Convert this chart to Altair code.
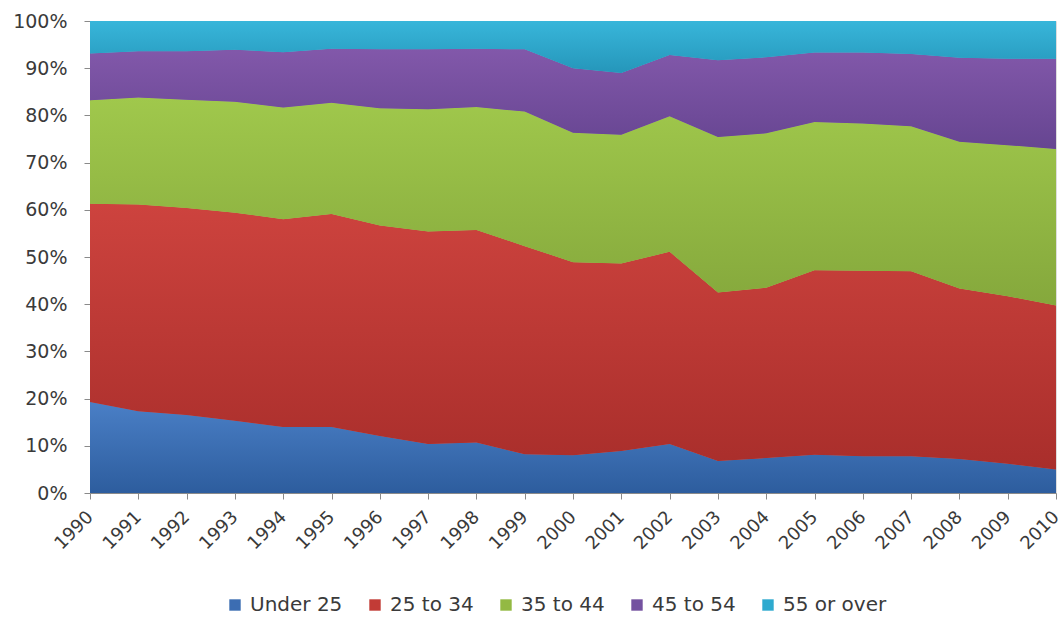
import altair as alt
import pandas as pd

years = [str(y) for y in range(1990, 2011)]
categories = ["Under 25", "25 to 34", "35 to 44", "45 to 54", "55 or over"]

under_25 = [19.3, 17.3, 16.5, 15.3, 14.0, 14.0, 12.1, 10.4, 10.7, 8.2, 8.0,
            8.9, 10.4, 6.8, 7.4, 8.1, 7.8, 7.8, 7.2, 6.2, 5.0]
age_25_34 = [42.0, 43.8, 43.9, 44.1, 44.0, 45.1, 44.6, 45.0, 45.0, 44.1, 40.9,
             39.7, 40.7, 35.7, 36.1, 39.1, 39.3, 39.2, 36.1, 35.5, 34.7]
age_35_44 = [21.9, 22.7, 22.9, 23.5, 23.7, 23.6, 24.8, 25.9, 26.1, 28.5, 27.4,
             27.3, 28.7, 32.9, 32.7, 31.4, 31.2, 30.7, 31.1, 32.0, 33.2]
age_45_54 = [9.9, 9.8, 10.3, 11.0, 11.7, 11.4, 12.5, 12.7, 12.3, 13.2, 13.7,
             13.1, 13.0, 16.3, 16.1, 14.7, 15.0, 15.3, 17.8, 18.3, 19.1]
age_55_over = [6.9, 6.4, 6.4, 6.1, 6.6, 5.9, 6.0, 6.0, 5.9, 6.0, 10.0,
               11.0, 7.2, 8.3, 7.7, 6.7, 6.7, 7.0, 7.8, 8.0, 8.0]

series = [under_25, age_25_34, age_35_44, age_45_54, age_55_over]

color_mid = ["#3c6db2", "#c23b36", "#93b943", "#7452a0", "#2eaacf"]
color_top = ["#4a7fc6", "#cd433e", "#a0c84c", "#8258aa", "#38b6da"]
color_bottom = ["#2d5d9e", "#a92e2b", "#85a83c", "#664591", "#2596ba"]

rows = []
for i, yr in enumerate(years):
    for k, cat in enumerate(categories):
        rows.append({"year": yr, "group": cat, "order": k, "share": series[k][i]})
df = pd.DataFrame(rows)

FONT = "DejaVu Sans"
TXT = "#3a3a3a"

x_enc = alt.X(
    "year:O",
    sort=years,
    scale=alt.Scale(type="point", padding=0),
    axis=alt.Axis(
        title=None, labelAngle=-45, labelAlign="right", labelBaseline="middle",
        labelFontSize=18, labelFont=FONT, labelColor=TXT, labelPadding=15,
        tickSize=6, tickColor="#8a8a8a", domainColor="#8a8a8a", grid=False,
    ),
)

y_scale = alt.Scale(domain=[0, 1], nice=False)
y_axis = alt.Axis(
    title=None, format=".0%", values=[i / 10 for i in range(11)],
    labelFontSize=19, labelFont=FONT, labelColor=TXT, labelPadding=17,
    tickSize=6, tickColor="#8a8a8a", domainColor="#8a8a8a", grid=False,
)

legend_layer = alt.Chart(df).mark_area().encode(
    x=x_enc,
    y=alt.Y("share:Q", stack="normalize", scale=y_scale, axis=y_axis),
    color=alt.Color(
        "group:N",
        scale=alt.Scale(domain=categories, range=color_mid),
        legend=alt.Legend(
            title=None, orient="none", direction="horizontal",
            legendX=135, legendY=574, symbolType="square", symbolSize=130,
            symbolStrokeWidth=0, labelFontSize=20, labelFont=FONT,
            labelColor=TXT, columnPadding=22, labelOffset=5,
        ),
    ),
    order=alt.Order("order:Q"),
)

stacked = alt.Chart(df).transform_stack(
    stack="share", groupby=["year"], as_=["y0", "y1"],
    sort=[alt.SortField("order")], offset="normalize",
)

grad_layers = []
for k, cat in enumerate(categories):
    grad = alt.Gradient(
        gradient="linear",
        stops=[alt.GradientStop(color=color_top[k], offset=0),
               alt.GradientStop(color=color_bottom[k], offset=1)],
        x1=0, x2=0, y1=0, y2=1,
    )
    grad_layers.append(
        stacked.transform_filter(alt.datum.group == cat)
        .mark_area(color=grad)
        .encode(x=x_enc, y=alt.Y("y0:Q", scale=y_scale, axis=y_axis), y2="y1:Q")
    )

chart = alt.layer(legend_layer, *grad_layers).properties(
    width=966, height=472,
    padding={"left": 90, "top": 21, "right": 8, "bottom": 126},
    autosize=alt.AutoSizeParams(type="none"),
).configure_view(stroke=None).configure(background="white")

chart.save("out.html", embed_options={"renderer": "svg", "actions": False})
